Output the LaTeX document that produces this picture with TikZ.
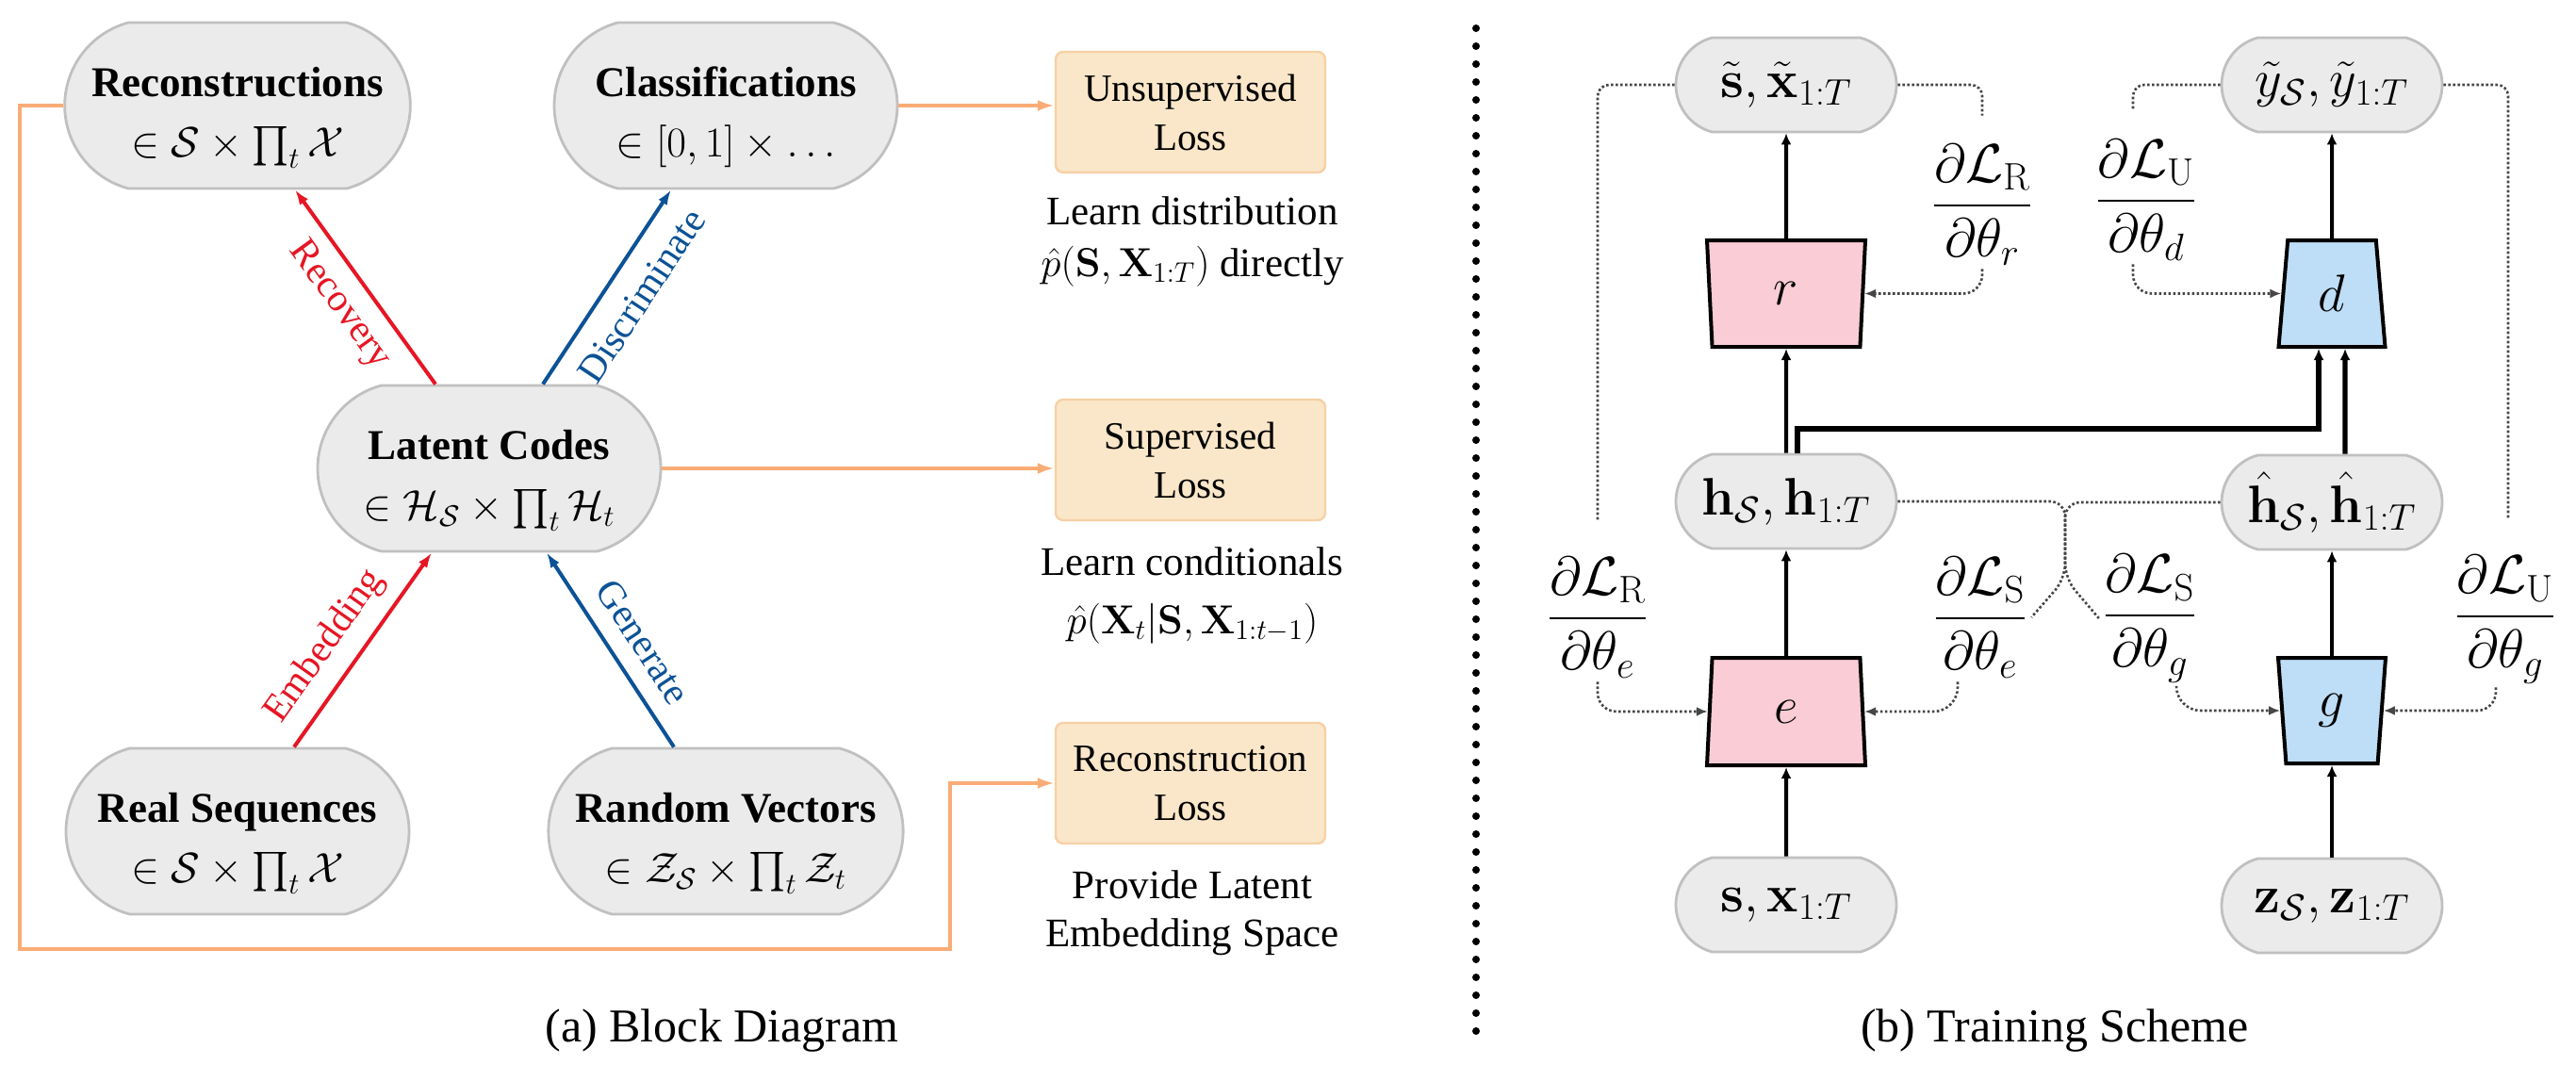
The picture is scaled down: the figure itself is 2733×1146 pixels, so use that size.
\RequirePackage{fix-cm}
\documentclass[tikz,border=0pt]{standalone}
\usepackage{amsmath}
\usepackage[no-math]{fontspec}
\setmainfont{Liberation Serif}
\usetikzlibrary{shapes.misc,shapes.geometric,arrows.meta,calc}
\definecolor{gfill}{RGB}{235,235,235}
\definecolor{gbord}{RGB}{192,192,192}
\definecolor{lossfill}{RGB}{250,231,201}
\definecolor{lossbord}{RGB}{247,208,165}
\definecolor{orline}{RGB}{250,172,118}
\definecolor{redc}{RGB}{230,22,36}
\definecolor{bluec}{RGB}{12,82,150}
\definecolor{pinkc}{RGB}{250,204,214}
\definecolor{bluefc}{RGB}{190,221,246}
\definecolor{dotc}{RGB}{70,70,70}
\newcommand{\topstrut}{\rule{0pt}{28.5pt}}
\begin{document}
\begin{tikzpicture}[x=0.5pt,y=-0.5pt,
  gnode/.style={rounded rectangle, rounded rectangle arc length=150, draw=gbord, fill=gfill, line width=1.4pt, align=center, inner sep=0pt},
  bignode/.style={gnode, minimum width=182pt, minimum height=88pt, font=\fontsize{22.5}{30}\selectfont},
  smallnode/.style={gnode, minimum width=117pt, minimum height=50pt, font=\fontsize{28}{32}\selectfont},
  lossbox/.style={draw=lossbord, fill=lossfill, rounded corners=4pt, line width=1.2pt, minimum width=143pt, minimum height=64pt, align=center, inner sep=0pt, font=\fontsize{20.5}{26}\selectfont},
  descline/.style={anchor=base, inner sep=0pt, font=\fontsize{21.5}{26}\selectfont},
  capt/.style={anchor=base, inner sep=0pt, font=\fontsize{25}{30}\selectfont},
  edgelab/.style={sloped, inner sep=2pt, font=\fontsize{20.5}{24}\selectfont},
  redarr/.style={draw=redc, line width=2pt, -{Latex[length=8pt,width=5.5pt]}},
  bluearr/.style={draw=bluec, line width=2pt, -{Latex[length=8pt,width=5.5pt]}},
  orarr/.style={draw=orline, line width=1.8pt, -{Latex[length=9pt,width=6pt]}},
  trap/.style={trapezium, trapezium stretches body=true, draw=black, line width=2pt, inner sep=0pt, font=\fontsize{28}{32}\selectfont},
  pinktrap/.style={trap, fill=pinkc},
  bluetrap/.style={trap, fill=bluefc},
  solidarr/.style={draw=black, line width=2pt, -{Latex[length=6pt,width=5.5pt]}},
  thickarr/.style={draw=black, line width=3.2pt, -{Latex[length=6pt,width=5.5pt]}},
  dotln/.style={draw=dotc, line width=1.3pt, dash pattern=on 1.3pt off 1.2pt, rounded corners=6pt},
  dotarr/.style={dotln, -{Latex[length=6pt,width=5pt]}},
  fraclab/.style={inner sep=2pt, font=\fontsize{29}{32}\selectfont},
]
\fill[white] (0,0) rectangle (2733,1146);
\useasboundingbox (0,0) rectangle (2733,1146);

% ---------------- (a) Block diagram ----------------
\node[bignode] (Rec) at (252,112) {\topstrut\textbf{Reconstructions}\\[2pt]$\in \mathcal{S}\times\prod_t\mathcal{X}$};
\node[bignode] (Cls) at (770,112) {\topstrut\textbf{Classifications}\\[2pt]$\in [0,1]\times\ldots$};
\node[bignode] (Lat) at (519,497) {\topstrut\textbf{Latent Codes}\\[2pt]$\in \mathcal{H}_{\mathcal{S}}\times\prod_t\mathcal{H}_t$};
\node[bignode] (Real) at (252,882) {\topstrut\textbf{Real Sequences}\\[2pt]$\in \mathcal{S}\times\prod_t\mathcal{X}$};
\node[bignode] (Rnd) at (770,882) {\topstrut\textbf{Random Vectors}\\[2pt]$\in \mathcal{Z}_{\mathcal{S}}\times\prod_t\mathcal{Z}_t$};

\node[lossbox] (LU) at (1263,119) {Unsupervised\\Loss};
\node[lossbox] (LS) at (1263,488) {Supervised\\Loss};
\node[lossbox] (LR) at (1263,831) {Reconstruction\\Loss};

\node[descline] (du1) at (1265,238) {Learn distribution};
\node[descline] (du2) at (1265,293) {$\hat{p}(\mathbf{S},\mathbf{X}_{1:T})$ directly};
\node[descline] (ds1) at (1265,610) {Learn conditionals};
\node[descline] (ds2) at (1265,672) {$\hat{p}(\mathbf{X}_t|\mathbf{S},\mathbf{X}_{1:t-1})$};
\node[descline] (dr1) at (1265,953) {Provide Latent};
\node[descline] (dr2) at (1265,1004) {Embedding Space};

\draw[redarr] ([xshift=-28.5pt]Lat.north) -- node[edgelab, text=redc, below=5pt] {Recovery} ([xshift=30.5pt]Rec.south);
\draw[bluearr] ([xshift=28.5pt]Lat.north) -- node[edgelab, pos=0.55, text=bluec, below=8pt] {Discriminate} ([xshift=-29pt]Cls.south);
\draw[redarr] ([xshift=30pt]Real.north) -- node[edgelab, pos=0.42, text=redc, above=5pt] {Embedding} ([xshift=-30.5pt]Lat.south);
\draw[bluearr] ([xshift=-27.5pt]Rnd.north) -- node[edgelab, pos=0.45, text=bluec, above=7pt] {Generate} ([xshift=30.5pt]Lat.south);

\draw[orarr] (Cls.east) -- (Cls.east -| LU.west);
\draw[orarr] (Lat.east) -- (Lat.east -| LS.west);
\coordinate (oBL) at (21,1007);
\coordinate (oBR) at (1008,1007);
\draw[orarr] (Rec.west) -| (oBL) -- (oBR) |- (LR.west);

\node[capt] (capA) at (766,1105) {(a) Block Diagram};

% separator
\coordinate (sepT) at (1566,30);
\coordinate (sepB) at (1566,1102);
\draw[line width=4pt, dash pattern=on 0pt off 9.5pt, line cap=round] (sepT) -- (sepB);

% ---------------- (b) Training scheme ----------------
\node[smallnode] (st) at (1895,90) {$\tilde{\mathbf{s}},\tilde{\mathbf{x}}_{1:T}$};
\node[smallnode] (yt) at (2474,90) {$\tilde{y}_{\mathcal{S}},\tilde{y}_{1:T}$};
\node[smallnode] (h) at (1895,532) {$\mathbf{h}_{\mathcal{S}},\mathbf{h}_{1:T}$};
\node[smallnode] (hh) at (2474,533) {$\hat{\mathbf{h}}_{\mathcal{S}},\hat{\mathbf{h}}_{1:T}$};
\node[smallnode] (sx) at (1895,960) {$\mathbf{s},\mathbf{x}_{1:T}$};
\node[smallnode] (z) at (2474,961) {$\mathbf{z}_{\mathcal{S}},\mathbf{z}_{1:T}$};

\node[pinktrap, trapezium angle=103, minimum width=84pt, minimum height=56.5pt] (r) at (1895,311.5) {$r$};
\node[pinktrap, trapezium angle=77, minimum width=84pt, minimum height=57pt] (e) at (1895,755) {$e$};
\node[bluetrap, trapezium angle=76, minimum width=56.5pt, minimum height=56.5pt] (d) at (2474,311.5) {$d$};
\node[bluetrap, trapezium angle=103.5, minimum width=57pt, minimum height=56pt] (g) at (2474,754) {$g$};

\node[fraclab] (dRr) at (2103,217) {$\dfrac{\partial\mathcal{L}_{\mathrm{R}}}{\partial\theta_r}$};
\node[fraclab] (dUd) at (2277,212) {$\dfrac{\partial\mathcal{L}_{\mathrm{U}}}{\partial\theta_d}$};
\node[fraclab] (dRe) at (1695,655) {$\dfrac{\partial\mathcal{L}_{\mathrm{R}}}{\partial\theta_e}$};
\node[fraclab] (dSe) at (2101,655) {$\dfrac{\partial\mathcal{L}_{\mathrm{S}}}{\partial\theta_e}$};
\node[fraclab] (dSg) at (2281,656) {$\dfrac{\partial\mathcal{L}_{\mathrm{S}}}{\partial\theta_g}$};
\node[fraclab] (dUg) at (2658,657) {$\dfrac{\partial\mathcal{L}_{\mathrm{U}}}{\partial\theta_g}$};

% solid flow
\draw[solidarr] (sx.north) -- (e.south);
\draw[solidarr] (e.north) -- (h.south);
\draw[solidarr] (h.north) -- (r.south);
\draw[solidarr] (r.north) -- (st.south);
\draw[solidarr] (z.north) -- (g.south);
\draw[solidarr] (g.north) -- (hh.south);
\draw[solidarr] (d.north) -- (yt.south);
\coordinate (hA) at ([xshift=6pt]h.north);
\coordinate (dL) at ([xshift=-7pt]d.south);
\draw[thickarr] (hA) |- ($(dL)+(0,85)$) -- (dL);
\draw[thickarr, line width=2.6pt] ([xshift=7pt]hh.north) -- ([xshift=7pt]d.south);

% dotted gradient paths
\draw[dotln] (st.west) -| ([yshift=17pt]dRe.north);
\draw[dotarr, rounded corners=10pt] (dRe.south) |- (e.west);
\draw[dotln] (st.east) -| ([yshift=13pt]dRr.north);
\draw[dotarr, rounded corners=10pt] (dRr.south) |- (r.east);
\draw[dotln] (yt.west) -| ([xshift=-7pt,yshift=13pt]dUd.north);
\draw[dotarr, rounded corners=10pt] ([xshift=-7pt]dUd.south) |- (d.west);
\draw[dotln] (yt.east) -| ([xshift=1.5pt,yshift=17pt]dUg.north);
\draw[dotarr, rounded corners=10pt] ([xshift=-5pt]dUg.south) |- (g.east);
\coordinate (jf) at (2191,614);
\draw[dotln, rounded corners=8pt] (h.east) -| (jf) -- (dSe.east);
\draw[dotln, rounded corners=8pt] (hh.west) -| (jf) -- (dSg.west);
\draw[dotarr, rounded corners=13pt] ([xshift=-12pt]dSe.south) |- (e.east);
\draw[dotarr, rounded corners=13pt] ([xshift=14pt]dSg.south) |- (g.west);

\node[capt] (capB) at (2180,1105) {(b) Training Scheme};
\end{tikzpicture}
\end{document}
